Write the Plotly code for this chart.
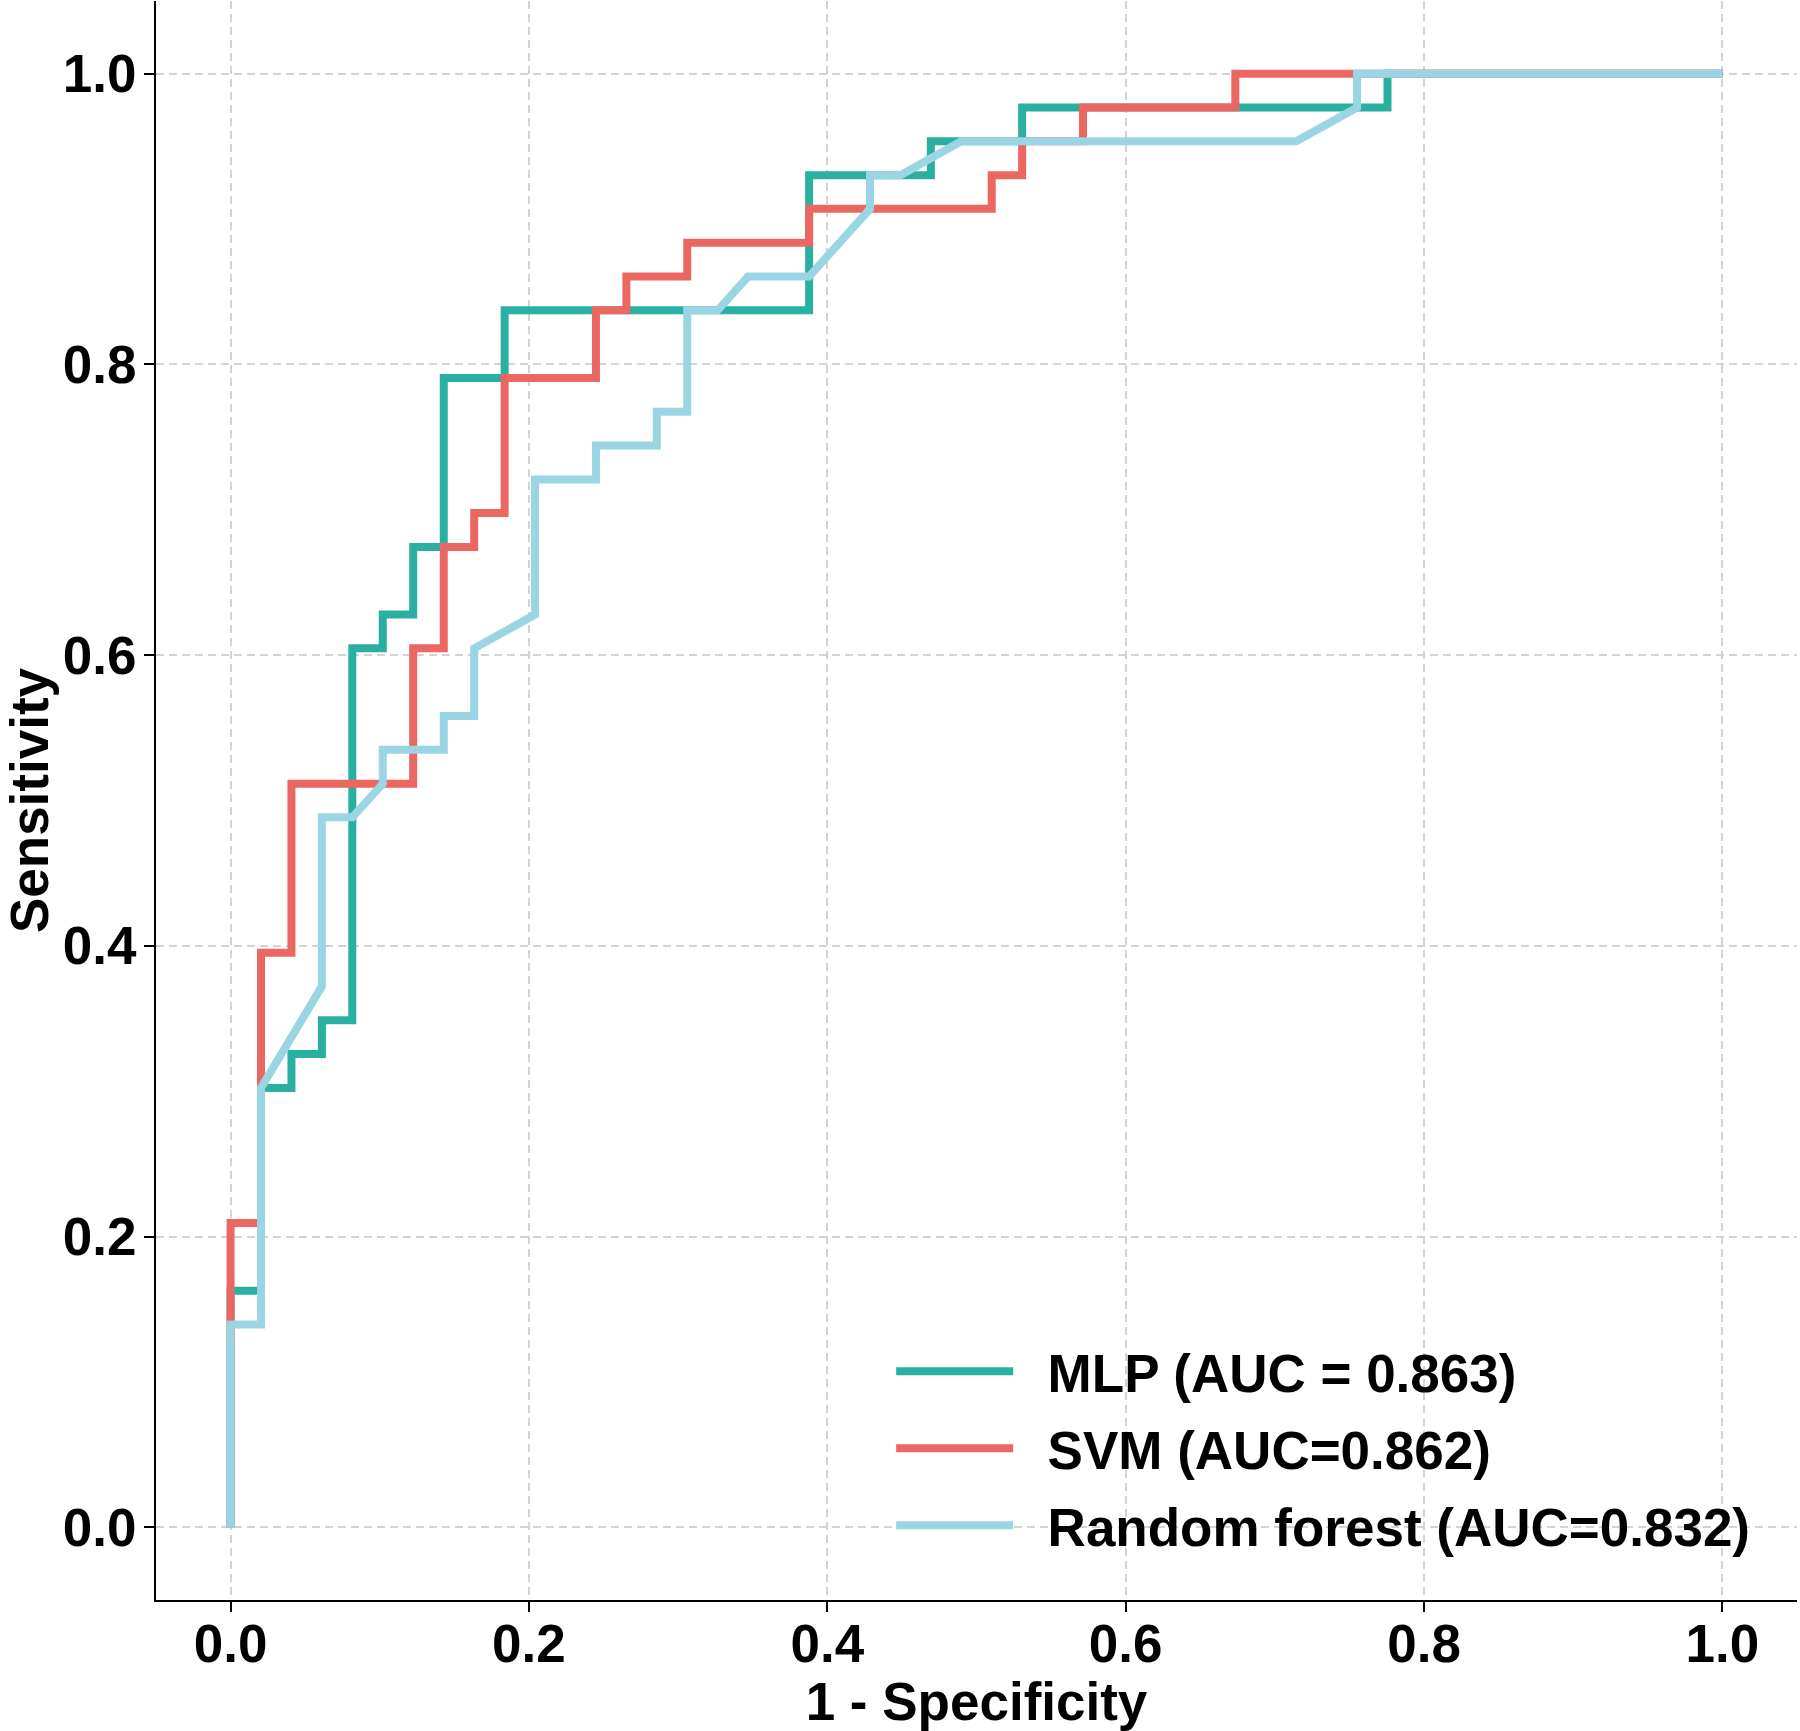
import plotly.graph_objects as go

# ---- data ----
mlp_fpr = [0.0, 0.0, 0.0204, 0.0204, 0.0408, 0.0408, 0.0612, 0.0612, 0.0816, 0.0816,
           0.1020, 0.1020, 0.1224, 0.1224, 0.1429, 0.1429, 0.1837, 0.1837, 0.3878, 0.3878,
           0.4694, 0.4694, 0.5306, 0.5306, 0.7755, 0.7755, 1.0]
mlp_tpr = [0.0, 0.1628, 0.1628, 0.3023, 0.3023, 0.3256, 0.3256, 0.3488, 0.3488, 0.6047,
           0.6047, 0.6279, 0.6279, 0.6744, 0.6744, 0.7907, 0.7907, 0.8372, 0.8372, 0.9302,
           0.9302, 0.9535, 0.9535, 0.9767, 0.9767, 1.0, 1.0]

svm_fpr = [0.0, 0.0, 0.0204, 0.0204, 0.0408, 0.0408, 0.1224, 0.1224, 0.1429, 0.1429,
           0.1633, 0.1633, 0.1837, 0.1837, 0.2449, 0.2449, 0.2653, 0.2653, 0.3061, 0.3061,
           0.3878, 0.3878, 0.5102, 0.5102, 0.5306, 0.5306, 0.5714, 0.5714, 0.6735, 0.6735, 1.0]
svm_tpr = [0.0, 0.2093, 0.2093, 0.3953, 0.3953, 0.5116, 0.5116, 0.6047, 0.6047, 0.6744,
           0.6744, 0.6977, 0.6977, 0.7907, 0.7907, 0.8372, 0.8372, 0.8605, 0.8605, 0.8837,
           0.8837, 0.9070, 0.9070, 0.9302, 0.9302, 0.9535, 0.9535, 0.9767, 0.9767, 1.0, 1.0]

rf_fpr = [0.0, 0.0, 0.0204, 0.0204, 0.0612, 0.0612, 0.0816, 0.1020, 0.1020, 0.1429,
          0.1429, 0.1633, 0.1633, 0.2041, 0.2041, 0.2449, 0.2449, 0.2857, 0.2857, 0.3061,
          0.3061, 0.3265, 0.3469, 0.3878, 0.4286, 0.4286, 0.4490, 0.4898, 0.7143, 0.7551,
          0.7551, 1.0]
rf_tpr = [0.0, 0.1395, 0.1395, 0.3023, 0.3721, 0.4884, 0.4884, 0.5116, 0.5349, 0.5349,
          0.5581, 0.5581, 0.6047, 0.6279, 0.7209, 0.7209, 0.7442, 0.7442, 0.7674, 0.7674,
          0.8372, 0.8372, 0.8605, 0.8605, 0.9070, 0.9302, 0.9302, 0.9535, 0.9535, 0.9767,
          1.0, 1.0]

series_names = ["MLP (AUC = 0.863)", "SVM (AUC=0.862)", "Random forest (AUC=0.832)"]
series_colors = ["#2AB0A0", "#EB6762", "#9AD5E4"]

tick_vals = [0.0, 0.2, 0.4, 0.6, 0.8, 1.0]
tick_text = ["0.0", "0.2", "0.4", "0.6", "0.8", "1.0"]

fig = go.Figure()
for name, fx, fy, col in zip(series_names, [mlp_fpr, svm_fpr, rf_fpr],
                             [mlp_tpr, svm_tpr, rf_tpr], series_colors):
    fig.add_trace(go.Scatter(x=fx, y=fy, mode="lines",
                             name="\u00a0\u00a0" + name, legendgroup=name,
                             line=dict(color=col, width=8)))

FONT = "Liberation Sans, Arial, sans-serif"
FS = 53
bold_font = dict(family=FONT, size=FS, color="black", weight="bold")
axis_common = dict(
    range=[-0.05, 1.05], tickvals=tick_vals, ticktext=tick_text,
    showline=True, linecolor="black", linewidth=2,
    ticks="outside", ticklen=10, tickwidth=2, tickcolor="black",
    showgrid=True, gridcolor="#d3d3d3", gridwidth=1.5, griddash="8px,5px",
    zeroline=False,
    tickfont=bold_font,
)

fig.update_layout(
    width=1800, height=1731,
    margin=dict(l=156, r=3, t=1, b=128),
    plot_bgcolor="white", paper_bgcolor="white",
    font=bold_font,
    showlegend=True,
    legend=dict(x=0.448, y=0.021, xanchor="left", yanchor="bottom",
                itemwidth=117, tracegroupgap=5, bgcolor="rgba(0,0,0,0)",
                font=bold_font),
    xaxis=dict(**axis_common, ticklabelstandoff=-14,
               title=dict(text="1 - Specificity", standoff=20, font=bold_font)),
    yaxis=dict(**axis_common, ticklabelstandoff=-3,
               title=dict(text="Sensitivity", standoff=0, font=bold_font)),
)

fig.write_html("out.html",
               config={"displayModeBar": False},
               post_script="document.body.style.margin='0px';document.body.style.padding='0px';")
